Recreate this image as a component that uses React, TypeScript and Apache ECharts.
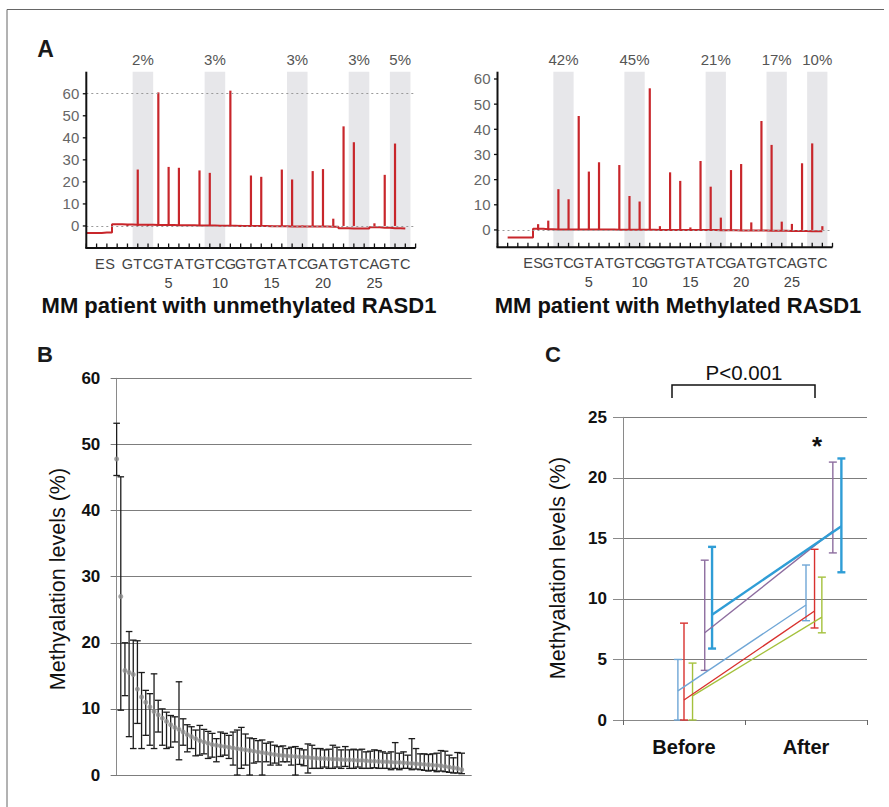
import React, { useEffect, useRef } from "react";
import * as echarts from "echarts";

// ---------- Panel A data (pyrograms) ----------
const dispensations = ["", "", "E", "S", "G", "T", "C", "G", "T", "A", "T", "G", "T", "C", "G", "G", "T", "G", "T", "A", "T", "C", "G", "A", "T", "G", "T", "C", "A", "G", "T", "C"];
const leftPeaks = [0, 0, 0, 0, 0.5, 25.6, 0.5, 60.6, 26.8, 26.4, 0.3, 25.2, 24.1, 0.3, 61.4, 0.5, 22.9, 22.3, 0.2, 25.6, 21.1, 0.2, 24.9, 25.8, 3.3, 45.2, 38, 0, 1.2, 23.2, 37.4, 0];
const leftBaseline = [-3.2, -3.2, -3.0, 0.8, 0.7, 0.6, 0.5, 0.4, 0.4, 0.3, 0.3, 0.2, 0.2, 0.1, 0.1, 0, 0, 0, -0.1, -0.1, -0.2, -0.3, -0.3, -0.3, -0.4, -1.0, -1.2, -1.2, -0.6, -0.8, -1.0, -1.2];
const rightPeaks = [0, 0, 0, 2.3, 3.7, 16.2, 12.2, 45.3, 23.2, 26.9, 0.3, 25.8, 13.5, 11.3, 56.3, 1.5, 22.9, 19.5, 1, 27.4, 17.2, 4.9, 23.8, 26.2, 3, 43.3, 33.8, 3.3, 2.4, 26.5, 34.4, 1.5];
const rightBaseline = [-3, -3, -3, 0.5, 0.3, 0.2, 0.2, 0.2, 0.2, 0.2, 0.2, 0.1, 0.1, 0.1, 0.1, 0, 0, 0, 0, 0, 0, -0.1, -0.1, -0.2, -0.2, -0.2, -0.3, -0.3, -0.4, -0.4, -0.5, -0.5];
const cpgSites = [5, 12, 20, 26, 30];
const leftPercent = ["2%", "3%", "3%", "3%", "5%"];
const rightPercent = ["42%", "45%", "21%", "17%", "10%"];
const pyroTicks = [0, 10, 20, 30, 40, 50, 60];

// ---------- Panel B data ----------
const bMean = [47.8, 27.0, 15.8, 15.5, 15.2, 13.0, 11.8, 11.0, 10.3, 9.6, 9.1, 8.6, 8.1, 7.6, 7.2, 6.9, 6.5, 6.1, 5.8, 5.5, 5.2, 5.0, 4.8, 4.6, 4.5, 4.4, 4.3, 4.2, 4.1, 4.0, 3.9, 3.8, 3.7, 3.6, 3.5, 3.4, 3.3, 3.2, 3.1, 3.0, 2.95, 2.9, 2.85, 2.8, 2.75, 2.7, 2.65, 2.6, 2.55, 2.5, 2.5, 2.45, 2.4, 2.4, 2.35, 2.3, 2.3, 2.25, 2.2, 2.2, 2.15, 2.1, 2.1, 2.05, 2.0, 2.0, 1.95, 1.9, 1.9, 1.85, 1.8, 1.75, 1.7, 1.65, 1.6, 1.55, 1.5, 1.45, 1.4, 1.3, 1.2, 1.1, 1.0, 0.8];
const bUpper = [53.2, 45.1, 20.0, 21.7, 20.4, 20.3, 15.5, 12.8, 12.3, 15.3, 11.3, 10.0, 9.5, 9.0, 8.8, 14.1, 8.5, 7.6, 7.3, 6.8, 7.5, 6.9, 6.6, 6.3, 5.5, 6.5, 6.3, 6.0, 6.5, 6.8, 7.2, 6.2, 5.6, 5.5, 5.2, 5.3, 4.8, 5.0, 4.5, 4.3, 4.4, 4.0, 4.2, 4.3, 4.0, 3.8, 4.7, 4.5, 4.0, 4.0, 3.8, 3.9, 4.5, 4.2, 3.8, 4.3, 3.8, 3.9, 3.8, 3.9, 3.5, 3.6, 3.8, 3.7, 3.5, 3.3, 3.5, 4.9, 3.3, 3.5, 3.0, 5.5, 4.0, 3.2, 3.2, 3.1, 3.2, 3.3, 3.7, 3.6, 3.0, 2.6, 3.4, 3.3];
const bLower = [45.3, 9.8, 12.0, 5.8, 4.0, 7.8, 4.0, 6.0, 4.5, 4.0, 6.5, 4.5, 4.0, 4.2, 5.0, 2.3, 4.5, 3.5, 4.0, 2.9, 3.0, 3.2, 2.5, 2.7, 2.0, 2.8, 3.0, 2.5, 1.5, 0, 1.0, 1.5, 0, 1.8, 2.0, 0, 2.0, 1.5, 1.8, 1.5, 2.0, 2.0, 1.5, 0, 1.6, 1.4, 0.3, 1.0, 1.0, 1.0, 1.2, 1.0, 1.0, 1.2, 1.0, 1.3, 1.0, 1.0, 1.2, 1.0, 1.0, 1.0, 1.1, 1.0, 1.0, 1.0, 0.8, 1.0, 0.8, 1.0, 1.0, 0.8, 0.9, 0.8, 0.7, 0.6, 0.7, 0.5, 0.6, 0.5, 0.4, 0.3, 0.3, 0.2];

// ---------- Panel C data ----------
const cCategories = ["Before", "After"];
const cColors = ["#6fa6d6", "#d8312e", "#a4c13c", "#8d6d9f", "#2f9dd6"];
const cMeanBefore = [2.4, 1.65, 2.0, 7.2, 8.7];
const cMeanAfter = [9.5, 9.0, 8.5, 15.6, 16.0];
const cLowBefore = [0, 0, 0, 4.1, 5.9];
const cHighBefore = [5.0, 8.0, 4.7, 13.2, 14.3];
const cLowAfter = [8.2, 7.6, 7.2, 13.8, 12.2];
const cHighAfter = [12.8, 14.1, 11.8, 21.3, 21.6];
const cOffsetBefore = [-0.05, 0, 0.07, 0.17, 0.23];
const cOffsetAfter = [0, 0.07, 0.13, 0.22, 0.29];
const cLineWidths = [1.4, 1.4, 1.4, 1.4, 2.4];

const FONT = "'Liberation Sans', Arial, sans-serif";
const RED = "#c8262b";

// layout of the four grids
const gridRects = [
  { left: 86.3, top: 71.7, width: 329.3, height: 176.3 },
  { left: 497.5, top: 71.7, width: 335, height: 175.6 },
  { left: 113.3, top: 378.3, width: 358.4, height: 396.7 },
  { left: 623, top: 417.3, width: 244, height: 302.7 },
];

// axis ranges of the two pyrogram panels
const pyroRange = [
  { xMin: 0, xMax: 32, yMin: -10, yMax: 70 },
  { xMin: -1, xMax: 32, yMin: -6.9, yMax: 62.9 },
];

const spikeRender = (params: any, api: any) => {
  const x = api.value(0);
  const base = api.coord([x, 0]);
  const top = api.coord([x, api.value(1)]);
  return {
    type: "line",
    shape: { x1: base[0], y1: base[1], x2: top[0], y2: top[1] },
    style: { stroke: RED, lineWidth: 2.2 },
  };
};

function pyroSeries(peaks: number[], baseline: number[], pct: string[], idx: number) {
  return [
    {
      type: "line",
      xAxisIndex: idx,
      yAxisIndex: idx,
      step: "middle",
      showSymbol: false,
      z: 2,
      lineStyle: { color: RED, width: 2 },
      data: baseline.map((v, i) => [i, v]),
      markArea: {
        silent: true,
        z: 0,
        itemStyle: { color: "#e7e7ea" },
        label: { show: true, position: "top", distance: 5, color: "#555", fontSize: 15, fontFamily: FONT },
        data: cpgSites.map((s, k) => [
          { xAxis: s - 0.5, name: pct[k] },
          { xAxis: s + 1.5 },
        ]),
      },
      markLine: {
        silent: true,
        symbol: "none",
        label: { show: false },
        lineStyle: { color: "#9a9a9a", type: [2, 3], width: 1 },
        data: idx === 0 ? [{ yAxis: 0 }, { yAxis: 60 }] : [{ yAxis: 0 }],
      },
    },
    {
      type: "custom",
      xAxisIndex: idx,
      yAxisIndex: idx,
      z: 3,
      renderItem: spikeRender,
      encode: { x: 0, y: 1 },
      data: peaks.map((h, i) => [i, h]),
    },
  ];
}

const makeLabelFormatter = (shiftES: boolean) => (v: number) => {
  const i = Math.round(v);
  const n = i - 3;
  const letter = dispensations[i] || "";
  if (shiftES && (letter === "E" || letter === "S") && i < 4) return `{es|${letter}}`;
  return n > 0 && n % 5 === 0 ? letter + "\n" + n : letter;
};

const xLabelStyle = {
  margin: 6,
  color: "#444",
  fontSize: 14.5,
  lineHeight: 19,
  fontFamily: FONT,
  rich: { es: { color: "#444", fontSize: 14.5, fontFamily: FONT, lineHeight: 19, padding: [0, 14, 0, 0] } },
};

export default function App() {
  const ref = useRef<HTMLDivElement>(null);
  useEffect(() => {
    if (!ref.current) return;
    const chart = echarts.init(ref.current, null, { renderer: "svg" });

    const errorBarRender = (color: string, width: number, cap: number) => (params: any, api: any) => {
      const x = api.value(0);
      const lo = api.coord([x, api.value(1)]);
      const hi = api.coord([x, api.value(2)]);
      const style = { stroke: color, lineWidth: width };
      return {
        type: "group",
        children: [
          { type: "line", shape: { x1: lo[0], y1: lo[1], x2: hi[0], y2: hi[1] }, style },
          { type: "line", shape: { x1: hi[0] - cap, y1: hi[1], x2: hi[0] + cap, y2: hi[1] }, style },
          { type: "line", shape: { x1: lo[0] - cap, y1: lo[1], x2: lo[0] + cap, y2: lo[1] }, style },
        ],
      };
    };

    const cSeries: any[] = [];
    cColors.forEach((color, k) => {
      const xb = 0.5 + cOffsetBefore[k];
      const xa = 1.5 + cOffsetAfter[k];
      cSeries.push({
        type: "custom",
        xAxisIndex: 4,
        yAxisIndex: 3,
        z: 3,
        renderItem: errorBarRender(color, cLineWidths[k], 4),
        encode: { x: 0, y: [1, 2] },
        data: [
          [xb, cLowBefore[k], cHighBefore[k]],
          [xa, cLowAfter[k], cHighAfter[k]],
        ],
      });
      cSeries.push({
        type: "line",
        xAxisIndex: 4,
        yAxisIndex: 3,
        z: 4,
        showSymbol: false,
        lineStyle: { color, width: cLineWidths[k] },
        data: [
          [xb, cMeanBefore[k]],
          [xa, cMeanAfter[k]],
        ],
      });
    });

    const graphics: any[] = [
      { type: "line", z: 100, shape: { x1: 7, y1: 9.5, x2: 884, y2: 9.5 }, style: { stroke: "#666", lineWidth: 1 } },
      { type: "line", z: 100, shape: { x1: 7, y1: 9.5, x2: 7, y2: 807 }, style: { stroke: "#666", lineWidth: 1 } },
      { type: "text", z: 100, x: 45.5, y: 49, style: { text: "A", font: `bold 23px ${FONT}`, fill: "#1a1a1a", align: "center", verticalAlign: "middle" } },
      { type: "text", z: 100, x: 45, y: 354, style: { text: "B", font: `bold 22px ${FONT}`, fill: "#1a1a1a", align: "center", verticalAlign: "middle" } },
      { type: "text", z: 100, x: 553, y: 354, style: { text: "C", font: `bold 22px ${FONT}`, fill: "#1a1a1a", align: "center", verticalAlign: "middle" } },
      { type: "text", z: 100, x: 239, y: 305, style: { text: "MM patient with unmethylated RASD1", font: `bold 22px ${FONT}`, fill: "#111", align: "center", verticalAlign: "middle" } },
      { type: "text", z: 100, x: 678, y: 305, style: { text: "MM patient with Methylated RASD1", font: `bold 22px ${FONT}`, fill: "#111", align: "center", verticalAlign: "middle" } },
      { type: "text", z: 100, x: 57.5, y: 579, rotation: Math.PI / 2, style: { text: "Methyalation levels (%)", font: `21.5px ${FONT}`, fill: "#111", align: "center", verticalAlign: "middle" } },
      { type: "text", z: 100, x: 558.3, y: 568, rotation: Math.PI / 2, style: { text: "Methyalation levels (%)", font: `21.5px ${FONT}`, fill: "#111", align: "center", verticalAlign: "middle" } },
      { type: "text", z: 100, x: 744, y: 372, style: { text: "P<0.001", font: `20.5px ${FONT}`, fill: "#111", align: "center", verticalAlign: "middle" } },
      { type: "polyline", z: 100, shape: { points: [[672, 398], [672, 385], [815, 385], [815, 398]] }, style: { stroke: "#111", lineWidth: 1.5, fill: null } },
      { type: "text", z: 100, x: 817, y: 446, style: { text: "*", font: `bold 26px ${FONT}`, fill: "#111", align: "center", verticalAlign: "middle" } },
    ];

    // pyrogram axes: black axis lines and ticks, placed by the same linear map as the grids' axes
    pyroRange.forEach((r, idx) => {
      const g = gridRects[idx];
      const px = (x: number) => g.left + ((x - r.xMin) / (r.xMax - r.xMin)) * g.width;
      const py = (y: number) => g.top + g.height - ((y - r.yMin) / (r.yMax - r.yMin)) * g.height;
      const bottom = g.top + g.height;
      const axisStyle = { stroke: "#111111", lineWidth: 2 };
      const tickStyle = { stroke: "#111111", lineWidth: 1.3 };
      graphics.push({ type: "line", z: 100, shape: { x1: g.left - 1, y1: bottom, x2: g.left + g.width, y2: bottom }, style: axisStyle });
      graphics.push({ type: "line", z: 100, shape: { x1: g.left, y1: bottom, x2: g.left, y2: g.top }, style: axisStyle });
      for (let i = Math.ceil(r.xMin); i <= Math.floor(r.xMax); i++) {
        const x = px(i);
        graphics.push({ type: "line", z: 100, shape: { x1: x, y1: bottom, x2: x, y2: bottom - 4.5 }, style: tickStyle });
      }
      pyroTicks.forEach((v) => {
        const y = py(v);
        graphics.push({ type: "line", z: 100, shape: { x1: g.left, y1: y, x2: g.left - 3.5, y2: y }, style: tickStyle });
      });
    });

    const option: any = {
      animation: false,
      backgroundColor: "#ffffff",
      textStyle: { fontFamily: FONT },
      grid: gridRects.map((g) => ({ ...g })),
      xAxis: [
        {
          type: "value",
          gridIndex: 0,
          min: pyroRange[0].xMin,
          max: pyroRange[0].xMax,
          interval: 1,
          axisLine: { show: false },
          axisTick: { show: false },
          axisLabel: { ...xLabelStyle, formatter: makeLabelFormatter(true) },
          splitLine: { show: false },
        },
        {
          type: "value",
          gridIndex: 1,
          min: pyroRange[1].xMin,
          max: pyroRange[1].xMax,
          interval: 1,
          axisLine: { show: false },
          axisTick: { show: false },
          axisLabel: { ...xLabelStyle, formatter: makeLabelFormatter(false) },
          splitLine: { show: false },
        },
        { type: "value", gridIndex: 2, min: -0.8, max: 85.4, show: false },
        {
          type: "category",
          gridIndex: 3,
          data: cCategories,
          boundaryGap: true,
          axisLine: { show: true, lineStyle: { color: "#888", width: 1 } },
          axisTick: { show: true, length: 5, lineStyle: { color: "#666" } },
          axisLabel: { color: "#111", fontSize: 20, fontWeight: "bold", margin: 17, fontFamily: FONT },
        },
        { type: "value", gridIndex: 3, min: 0, max: 2, show: false },
      ],
      yAxis: [
        {
          type: "value",
          gridIndex: 0,
          min: pyroRange[0].yMin,
          max: pyroRange[0].yMax,
          interval: 10,
          axisLine: { show: false },
          axisTick: { show: false },
          axisLabel: {
            margin: 7,
            color: "#666",
            fontSize: 15,
            fontFamily: FONT,
            formatter: (v: number) => (pyroTicks.indexOf(v) >= 0 ? String(v) : ""),
          },
          splitLine: { show: false },
        },
        {
          type: "value",
          gridIndex: 1,
          min: pyroRange[1].yMin,
          max: pyroRange[1].yMax,
          axisLine: { show: false },
          axisTick: { show: false },
          axisLabel: { customValues: pyroTicks, margin: 7, color: "#666", fontSize: 15, fontFamily: FONT },
          splitLine: { show: false },
        },
        {
          type: "value",
          gridIndex: 2,
          min: 0,
          max: 60,
          interval: 10,
          axisLine: { show: true, lineStyle: { color: "#8a8a8a", width: 1 } },
          axisTick: { show: true, length: 6, lineStyle: { color: "#777" } },
          axisLabel: { color: "#111", fontSize: 17, fontWeight: "bold", margin: 13, fontFamily: FONT },
          splitLine: { show: true, lineStyle: { color: "#7d7d7d", width: 1 } },
        },
        {
          type: "value",
          gridIndex: 3,
          min: 0,
          max: 25,
          interval: 5,
          axisLine: { show: true, lineStyle: { color: "#8a8a8a", width: 1 } },
          axisTick: { show: true, length: 10, lineStyle: { color: "#8a8a8a" } },
          axisLabel: { color: "#111", fontSize: 17, fontWeight: "bold", margin: 16, fontFamily: FONT },
          splitLine: { show: true, lineStyle: { color: "#7d7d7d", width: 1 } },
        },
      ],
      series: [
        ...pyroSeries(leftPeaks, leftBaseline, leftPercent, 0),
        ...pyroSeries(rightPeaks, rightBaseline, rightPercent, 1),
        {
          type: "custom",
          xAxisIndex: 2,
          yAxisIndex: 2,
          z: 3,
          renderItem: errorBarRender("#1c1c1c", 1.3, 3.3),
          encode: { x: 0, y: [1, 2] },
          data: bMean.map((_, i) => [i, bLower[i], bUpper[i]]),
        },
        {
          type: "scatter",
          xAxisIndex: 2,
          yAxisIndex: 2,
          z: 4,
          symbolSize: 5,
          itemStyle: { color: "#8c8c8c" },
          data: bMean.map((m, i) => [i, m]),
        },
        ...cSeries,
      ],
      graphic: graphics,
    };
    chart.setOption(option);
    return () => chart.dispose();
  }, []);
  return <div ref={ref} style={{ position: "absolute", left: 0, top: 0, width: 889, height: 807 }} />;
}
